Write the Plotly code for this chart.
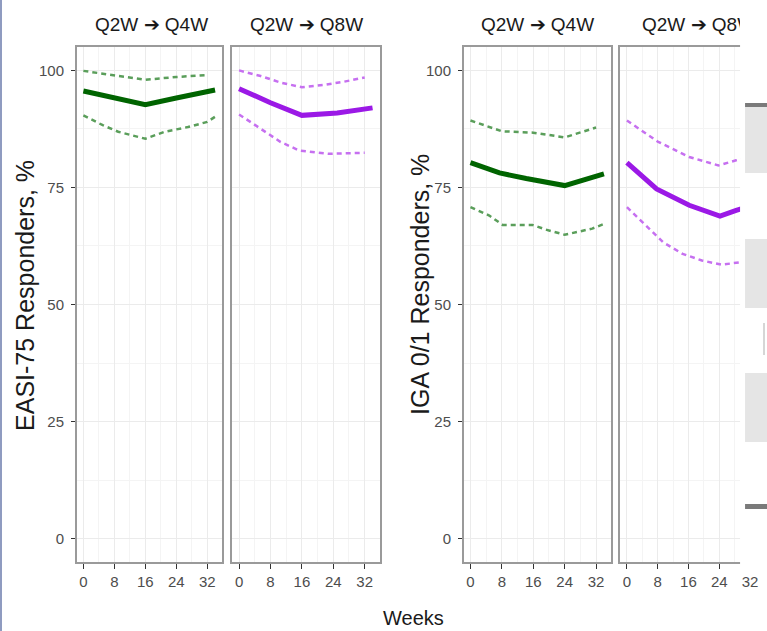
import plotly.graph_objects as go

W, H = 767, 631

# ---------------- data ----------------
strip_titles = ["Q2W ➔ Q4W", "Q2W ➔ Q8W", "Q2W ➔ Q4W", "Q2W ➔ Q8W"]
x_ticks = [0, 8, 16, 24, 32]
y_ticks = [0, 25, 50, 75, 100]

# EASI-75, Q2W -> Q4W
easi_q4w_wk = [0, 8, 16, 24, 34]
easi_q4w_est = [95.6, 94.1, 92.7, 94.1, 95.8]
easi_q4w_up_wk = [0, 8, 16, 24, 32]
easi_q4w_up = [99.9, 98.9, 98.0, 98.6, 99.0]
easi_q4w_lo_wk = [0, 5, 9, 16, 21, 27, 32, 34]
easi_q4w_lo = [90.4, 88.3, 86.9, 85.4, 86.9, 87.9, 89.0, 90.1]

# EASI-75, Q2W -> Q8W
easi_q8w_wk = [0, 8, 16, 25, 34]
easi_q8w_est = [96.1, 93.1, 90.4, 90.9, 92.0]
easi_q8w_up_wk = [0, 5.5, 10.6, 16, 21.7, 26.8, 32]
easi_q8w_up = [100.0, 98.8, 97.4, 96.4, 96.9, 97.6, 98.5]
easi_q8w_lo_wk = [0, 5.4, 10.6, 15.3, 22.7, 32]
easi_q8w_lo = [90.6, 87.6, 84.7, 82.9, 82.2, 82.4]

# IGA 0/1, Q2W -> Q4W
iga_q4w_wk = [0, 7.4, 14.2, 24, 34]
iga_q4w_est = [80.3, 78.1, 76.9, 75.4, 77.9]
iga_q4w_up_wk = [0, 8, 16, 24, 32]
iga_q4w_up = [89.3, 87.0, 86.7, 85.7, 87.8]
iga_q4w_lo_wk = [0, 4.8, 8.2, 15.8, 19.2, 24, 31, 34]
iga_q4w_lo = [70.8, 69.0, 67.0, 67.0, 66.0, 64.9, 66.2, 67.2]

# IGA 0/1, Q2W -> Q8W
iga_q8w_wk = [0, 7.7, 16.2, 24.2, 28.4, 34]
iga_q8w_est = [80.3, 74.7, 71.2, 68.9, 70.1, 71.5]
iga_q8w_up_wk = [0, 8, 16.2, 23.8, 28.4, 34]
iga_q8w_up = [89.3, 84.8, 81.5, 79.7, 80.8, 82.0]
iga_q8w_lo_wk = [0, 5.2, 9.4, 14.5, 19.5, 24.6, 28.4, 34]
iga_q8w_lo = [70.8, 66.7, 63.3, 60.8, 59.4, 58.5, 58.9, 59.5]

# ---------------- styling ----------------
FONT = "Liberation Sans, Arial, sans-serif"
GREEN, GREEN_CI = "#006400", "#5a9e5a"
PURPLE, PURPLE_CI = "#9b19e6", "#c670f0"
DASH = "5px,4px"

def fx(px):
    return px / W

def fy(px):
    return 1 - px / H

panels_px = [(77, 223), (233, 381), (465, 613), (622, 767)]
y_dom = [fy(562), fy(47)]

panel_data = [
    (easi_q4w_wk, easi_q4w_est, easi_q4w_up_wk, easi_q4w_up, easi_q4w_lo_wk, easi_q4w_lo, GREEN, GREEN_CI),
    (easi_q8w_wk, easi_q8w_est, easi_q8w_up_wk, easi_q8w_up, easi_q8w_lo_wk, easi_q8w_lo, PURPLE, PURPLE_CI),
    (iga_q4w_wk, iga_q4w_est, iga_q4w_up_wk, iga_q4w_up, iga_q4w_lo_wk, iga_q4w_lo, GREEN, GREEN_CI),
    (iga_q8w_wk, iga_q8w_est, iga_q8w_up_wk, iga_q8w_up, iga_q8w_lo_wk, iga_q8w_lo, PURPLE, PURPLE_CI),
]

fig = go.Figure()
layout = dict(
    width=W, height=H,
    margin=dict(l=0, r=0, t=0, b=0),
    paper_bgcolor="white", plot_bgcolor="white",
    showlegend=False,
    font=dict(family=FONT, color="#333333"),
)

for i, (x0, x1) in enumerate(panels_px):
    n = "" if i == 0 else str(i + 1)
    xa, ya = "x" + n, "y" + n
    wk, est, uwk, up, lwk, lo, col, cicol = panel_data[i]
    fig.add_trace(go.Scatter(x=uwk, y=up, mode="lines", xaxis=xa, yaxis=ya,
                             line=dict(color=cicol, width=2.5, dash=DASH)))
    fig.add_trace(go.Scatter(x=lwk, y=lo, mode="lines", xaxis=xa, yaxis=ya,
                             line=dict(color=cicol, width=2.5, dash=DASH)))
    fig.add_trace(go.Scatter(x=wk, y=est, mode="lines", xaxis=xa, yaxis=ya,
                             line=dict(color=col, width=5)))

    layout["xaxis" + n] = dict(
        domain=[fx(x0), fx(x1)], anchor=ya, range=[-1.7, 35.9],
        tickvals=x_ticks, ticks="outside", ticklen=5, tickwidth=1, tickcolor="#333333",
        tickfont=dict(size=15, color="#4d4d4d", family=FONT),
        showline=True, linecolor="#9a9a9a", linewidth=1.5, mirror=True,
        showgrid=True, gridcolor="#ebebeb", gridwidth=1, zeroline=False,
        minor=dict(tickvals=[4, 12, 20, 28], showgrid=True, gridcolor="#f4f4f4", gridwidth=1, ticks=""),
    )
    show_y = i in (0, 2)
    layout["yaxis" + n] = dict(
        domain=y_dom, anchor=xa, range=[-5, 105],
        tickvals=y_ticks, showticklabels=show_y,
        ticks="outside" if show_y else "", ticklen=4, tickcolor="#333333",
        ticklabelstandoff=4,
        tickfont=dict(size=15, color="#4d4d4d", family=FONT),
        showline=True, linecolor="#9a9a9a", linewidth=1.5, mirror=True,
        showgrid=True, gridcolor="#ebebeb", gridwidth=1, zeroline=False,
        minor=dict(tickvals=[12.5, 37.5, 62.5, 87.5], showgrid=True, gridcolor="#f4f4f4", gridwidth=1, ticks=""),
    )

annotations = []
centers = [152, 307, 539, 700]
for c, t in zip(centers, strip_titles):
    annotations.append(dict(x=fx(c), y=fy(24), xref="paper", yref="paper", text=t, showarrow=False,
                            xanchor="center", yanchor="middle",
                            font=dict(size=19, color="#1a1a1a", family=FONT)))
# cover the clipped part of the last strip title
annotations.append(dict(x=fx(742), y=fy(4), xref="paper", yref="paper", xanchor="left", yanchor="top",
                        text=" ", showarrow=False, bgcolor="white", width=30, height=40,
                        borderpad=0, borderwidth=0))
annotations.append(dict(x=fx(25), y=fy(295), xref="paper", yref="paper", text="EASI-75 Responders, %",
                        xanchor="center", yanchor="middle",
                        textangle=-90, showarrow=False, font=dict(size=25, color="#1a1a1a", family=FONT)))
annotations.append(dict(x=fx(421), y=fy(284), xref="paper", yref="paper", text="IGA 0/1 Responders, %",
                        xanchor="center", yanchor="middle",
                        textangle=-90, showarrow=False, font=dict(size=25, color="#1a1a1a", family=FONT)))
annotations.append(dict(x=fx(415), y=fy(618), xref="paper", yref="paper", text="Weeks", showarrow=False,
                        xanchor="center", yanchor="middle",
                        font=dict(size=20, color="#1a1a1a", family=FONT)))
layout["annotations"] = annotations

shapes = [
    # white area covering the right part of the last panel (legend region)
    dict(type="rect", xref="paper", yref="paper", x0=fx(742), x1=1.01, y0=fy(570), y1=fy(35),
         fillcolor="white", line=dict(width=0), layer="above"),
    dict(type="rect", xref="paper", yref="paper", x0=fx(747), x1=1.01, y0=fy(107), y1=fy(103),
         fillcolor="#7a7a7a", line=dict(width=0), layer="above"),
    dict(type="rect", xref="paper", yref="paper", x0=fx(747), x1=1.01, y0=fy(173), y1=fy(107),
         fillcolor="#e5e5e5", line=dict(width=0), layer="above"),
    dict(type="rect", xref="paper", yref="paper", x0=fx(747), x1=1.01, y0=fy(308), y1=fy(239),
         fillcolor="#e5e5e5", line=dict(width=0), layer="above"),
    dict(type="rect", xref="paper", yref="paper", x0=fx(747), x1=1.01, y0=fy(442), y1=fy(373),
         fillcolor="#e5e5e5", line=dict(width=0), layer="above"),
    dict(type="rect", xref="paper", yref="paper", x0=fx(747), x1=1.01, y0=fy(509), y1=fy(504),
         fillcolor="#7a7a7a", line=dict(width=0), layer="above"),
    dict(type="line", xref="paper", yref="paper", x0=fx(766), x1=fx(766), y0=fy(355), y1=fy(323),
         line=dict(color="#c8c8c8", width=1.5), layer="above"),
    # left border of the original picture
    dict(type="line", xref="paper", yref="paper", x0=fx(1), x1=fx(1), y0=0, y1=1,
         line=dict(color="#8f9bc0", width=2), layer="above"),
]
layout["shapes"] = shapes

fig.update_layout(**layout)
fig.write_html("out.html", config={"displayModeBar": False},
               post_script="document.body.style.margin='0px';document.body.style.padding='0px';")
